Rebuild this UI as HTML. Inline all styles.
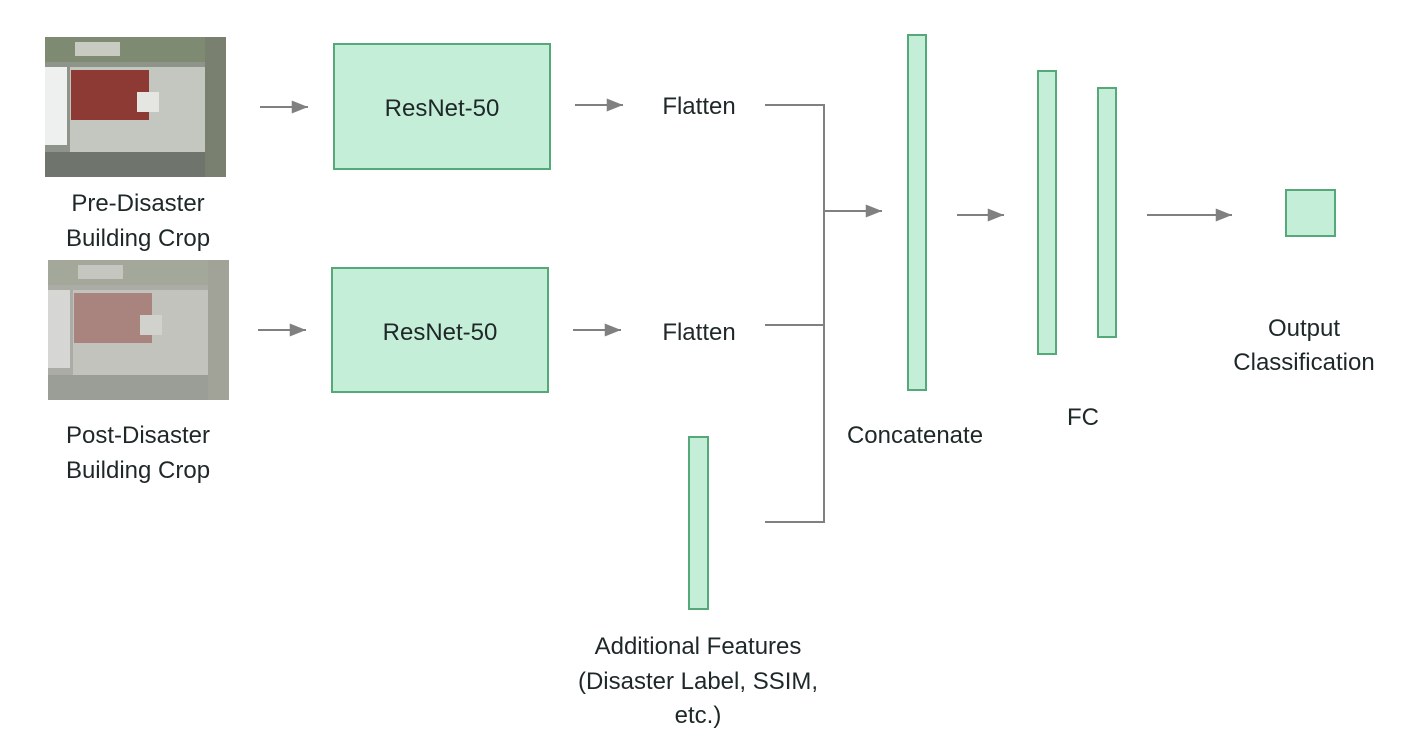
<!DOCTYPE html>
<html><head><meta charset="utf-8"><style>
html,body{margin:0;padding:0;background:#fff;width:1418px;height:752px;overflow:hidden}
text{font-family:"Liberation Sans",sans-serif;font-size:24px;fill:#1f2828;text-anchor:middle}
.b{fill:#c5eed8;stroke:#55a877;stroke-width:2}
.l{stroke:#808080;stroke-width:2;fill:none}
</style></head><body>
<svg width="1418" height="752" viewBox="0 0 1418 752" xmlns="http://www.w3.org/2000/svg">
<defs>
<marker id="h" viewBox="0 0 10 8" refX="10" refY="4" markerWidth="18" markerHeight="13" orient="auto" markerUnits="userSpaceOnUse"><path d="M0,0 L10,4 L0,8 z" fill="#808080"/></marker>
<g id="img">
<rect x="0" y="0" width="181" height="140" fill="#8f948a"/>
<rect x="0" y="0" width="181" height="25" fill="#7f8a72"/>
<rect x="30" y="5" width="45" height="14" fill="#c9cbc3"/>
<rect x="0" y="30" width="22" height="78" fill="#eef0f0"/>
<rect x="25" y="30" width="145" height="85" fill="#c4c6c0"/>
<rect x="26" y="33" width="78" height="50" fill="#8d3a35"/>
<rect x="92" y="55" width="22" height="20" fill="#e5e6e2"/>
<rect x="0" y="115" width="181" height="25" fill="#6f746c"/>
<rect x="160" y="0" width="21" height="140" fill="#7a8070"/>
</g>
</defs>
<use href="#img" x="45" y="37"/>
<g opacity="0.7"><use href="#img" x="48" y="260"/></g>
<rect x="48" y="260" width="181" height="140" fill="#a0a098" opacity="0.35"/>
<text x="138" y="211">Pre-Disaster</text>
<text x="138" y="246">Building Crop</text>
<text x="138" y="443">Post-Disaster</text>
<text x="138" y="478">Building Crop</text>

<line class="l" x1="260" y1="107" x2="308" y2="107" marker-end="url(#h)"/>
<line class="l" x1="258" y1="330" x2="306" y2="330" marker-end="url(#h)"/>
<rect class="b" x="334" y="44" width="216" height="125"/>
<rect class="b" x="332" y="268" width="216" height="124"/>
<text x="442" y="116">ResNet-50</text>
<text x="440" y="340">ResNet-50</text>
<line class="l" x1="575" y1="105" x2="623" y2="105" marker-end="url(#h)"/>
<line class="l" x1="573" y1="330" x2="621" y2="330" marker-end="url(#h)"/>
<text x="699" y="114">Flatten</text>
<text x="699" y="340">Flatten</text>
<polyline class="l" points="765,105 824,105 824,522 765,522"/>
<line class="l" x1="765" y1="325" x2="824" y2="325"/>
<line class="l" x1="824" y1="211" x2="882" y2="211" marker-end="url(#h)"/>
<rect class="b" x="908" y="35" width="18" height="355"/>
<text x="915" y="443">Concatenate</text>
<line class="l" x1="957" y1="215" x2="1004" y2="215" marker-end="url(#h)"/>
<rect class="b" x="1038" y="71" width="18" height="283"/>
<rect class="b" x="1098" y="88" width="18" height="249"/>
<text x="1083" y="425">FC</text>
<line class="l" x1="1147" y1="215" x2="1232" y2="215" marker-end="url(#h)"/>
<rect class="b" x="1286" y="190" width="49" height="46"/>
<text x="1304" y="336">Output</text>
<text x="1304" y="370">Classification</text>
<rect class="b" x="689" y="437" width="19" height="172"/>
<text x="698" y="654">Additional Features</text>
<text x="698" y="689">(Disaster Label, SSIM,</text>
<text x="698" y="723">etc.)</text>
</svg>
</body></html>
